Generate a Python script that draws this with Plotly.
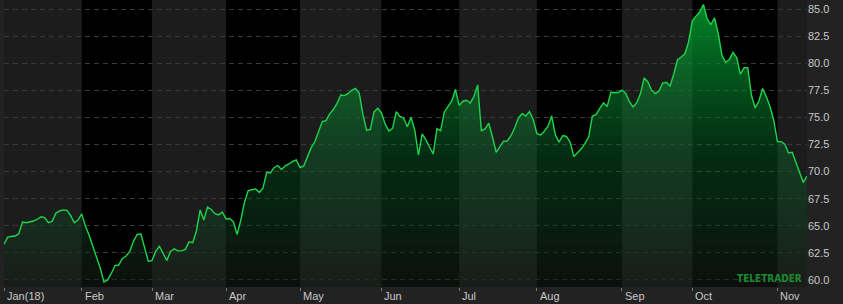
import plotly.graph_objects as go

# Closing prices (one value per trading day), Jan 2018 - early Nov 2018
prices = [
    63.29, 63.95, 64.01, 64.05, 64.27, 65.35, 65.28, 65.33, 65.44, 65.60,
    65.83, 65.76, 65.29, 65.41, 66.15, 66.36, 66.46, 66.42, 65.95, 65.28,
    65.53, 66.10, 64.98, 64.13, 63.18, 62.15, 61.10, 59.82, 60.00, 60.60,
    61.32, 61.38, 61.98, 62.21, 62.63, 63.60, 64.20, 64.24, 62.86, 61.71,
    61.80, 62.63, 63.11, 62.40, 61.80, 62.63, 62.88, 62.68, 62.68, 62.82,
    63.51, 63.44, 64.52, 66.46, 65.53, 66.73, 66.50, 66.12, 66.00, 66.27,
    65.63, 65.67, 65.35, 64.20, 65.53, 67.20, 68.24, 68.32, 68.40, 68.08,
    68.50, 69.93, 69.87, 70.38, 70.56, 70.20, 70.53, 70.70, 70.93, 71.07,
    70.36, 70.52, 71.35, 72.21, 72.75, 73.65, 74.62, 74.70, 75.33, 75.72,
    76.29, 77.07, 77.01, 77.21, 77.50, 77.67, 77.23, 75.27, 73.80, 73.89,
    75.50, 75.84, 75.41, 74.39, 73.75, 73.98, 75.53, 75.08, 74.94, 74.14,
    75.00, 73.84, 71.53, 73.47, 72.94, 72.27, 71.64, 73.97, 73.78, 75.50,
    76.07, 76.51, 77.57, 76.11, 76.49, 76.58, 76.33, 76.92, 78.00, 73.77,
    73.93, 74.46, 73.19, 71.78, 72.31, 72.80, 72.82, 73.31, 74.02, 74.94,
    75.34, 75.13, 75.53, 74.81, 73.50, 73.38, 73.71, 74.18, 75.13, 73.38,
    72.71, 73.33, 73.24, 72.71, 71.39, 71.76, 72.10, 72.60, 73.19, 75.12,
    75.25, 75.84, 76.35, 76.01, 77.31, 77.30, 77.29, 77.52, 77.23, 76.45,
    75.96, 76.36, 77.20, 78.64, 78.27, 77.51, 77.20, 77.44, 78.17, 78.24,
    77.90, 79.00, 80.32, 80.57, 80.87, 81.96, 83.89, 84.34, 84.72, 85.41,
    84.12, 83.55, 84.19, 82.76, 80.76, 80.08, 80.33, 81.00, 80.51, 79.00,
    79.58, 79.58, 77.02, 75.87, 76.51, 77.67, 76.93, 76.00, 74.76, 72.76,
    72.76, 72.53, 71.72, 71.78, 70.82, 69.94, 69.00, 69.59,
]
days = list(range(len(prices)))

# Month starts (trading-day index) and labels
month_starts = [0, 21, 40, 60, 80, 102, 123, 144, 167, 186, 209]
month_labels = ["Jan(18)", "Feb", "Mar", "Apr", "May", "Jun", "Jul", "Aug", "Sep", "Oct", "Nov"]

y_ticks = [60.0, 62.5, 65.0, 67.5, 70.0, 72.5, 75.0, 77.5, 80.0, 82.5, 85.0]
y_min, y_max = 59.35, 85.83
x_end = len(prices) - 1

fig = go.Figure()

fig.add_trace(go.Scatter(
    x=days, y=prices, mode="lines",
    line=dict(color="#1ed44a", width=1.4),
    fill="tozeroy",
    fillgradient=dict(
        type="vertical", start=y_min, stop=y_max,
        colorscale=[[0.0, "rgba(22,26,22,0.55)"],
                    [0.45, "rgba(10,95,40,0.45)"],
                    [1.0, "rgba(0,170,50,0.80)"]],
    ),
    hoverinfo="skip", showlegend=False,
))

shapes = []
bounds = month_starts + [x_end]
for k in range(len(month_starts)):
    if k % 2 == 0:
        shapes.append(dict(type="rect", xref="x", yref="paper",
                           x0=bounds[k], x1=bounds[k + 1], y0=0, y1=1,
                           fillcolor="#1c1c1c", line=dict(width=0), layer="below"))

annotations = []
for pos, lab in zip(month_starts, month_labels):
    annotations.append(dict(x=pos, y=0, xref="x", yref="paper", text=lab,
                            showarrow=False, xanchor="left", yanchor="top",
                            xshift=1, yshift=-1,
                            font=dict(family="Liberation Sans, Arial, sans-serif",
                                      size=11, color="#c8c8c8")))
annotations.append(dict(x=0.996, y=0.03, xref="paper", yref="paper",
                        text="<b>TELETRADER</b>", showarrow=False,
                        xanchor="right", yanchor="middle",
                        font=dict(family="DejaVu Sans Condensed, Liberation Sans Narrow, Liberation Sans, Arial",
                                  size=10, color="#1e8a30")))

fig.update_layout(
    width=843, height=304,
    margin=dict(l=4, r=36, t=0, b=17),
    paper_bgcolor="#222222",
    plot_bgcolor="#000000",
    shapes=shapes,
    annotations=annotations,
    xaxis=dict(range=[0, x_end], tickvals=month_starts, showticklabels=False,
               ticks="outside", ticklen=3, tickcolor="#777777",
               showgrid=False, zeroline=False, showline=False, fixedrange=True),
    yaxis=dict(range=[y_min, y_max], side="right", tickvals=y_ticks,
               tickformat=".1f", showgrid=True, gridcolor="#3a3a3a",
               griddash="5px,4px", gridwidth=1, zeroline=False, ticks="",
               tickfont=dict(family="Liberation Sans, Arial, sans-serif",
                             size=11, color="#c8c8c8"),
               fixedrange=True),
)

fig.write_html("out.html")
